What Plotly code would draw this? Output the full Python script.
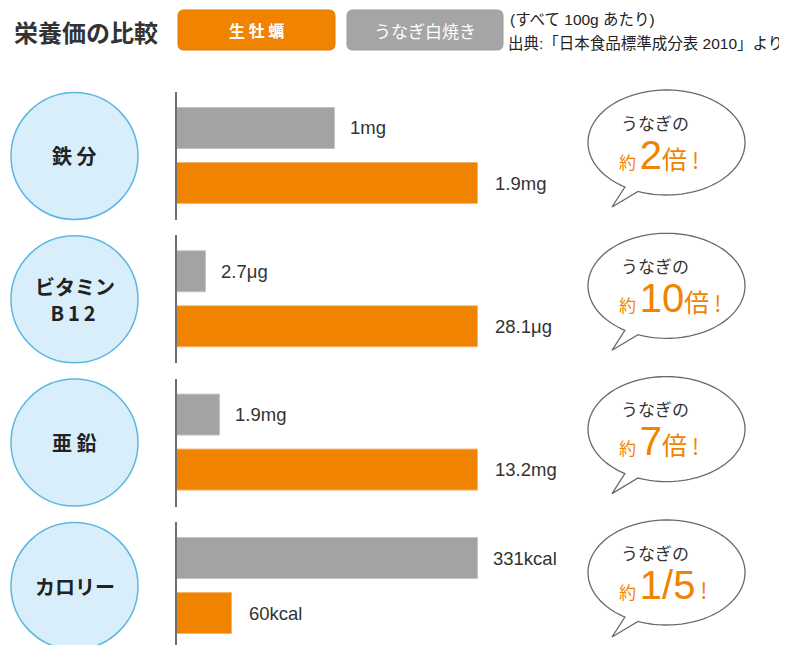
import numpy as np
import plotly.graph_objects as go

PAGE_W, PAGE_H = 787, 645
OFF = 8  # browser body margin
W, H = PAGE_W - OFF, PAGE_H - OFF

# ---- data ----
nutrients = ["鉄 分", "ビタミン<br><span style='letter-spacing:4px'>B12</span>", "亜 鉛", "カロリー"]
series_names = ["生 牡 蠣", "うなぎ白焼き"]
unagi = [1.0, 2.7, 1.9, 331]
oyster = [1.9, 28.1, 13.2, 60]
unagi_labels = ["1mg", "2.7μg", "1.9mg", "331kcal"]
oyster_labels = ["1.9mg", "28.1μg", "13.2mg", "60kcal"]
ratio_texts = ["2", "10", "7", "1/5"]
ratio_suffix = ["倍", "倍", "倍", ""]

ORANGE = "#f08300"
GRAY = "#a3a3a3"
DARK = "#333333"
JP = "Noto Sans CJK JP"
LAT = "Liberation Sans, Noto Sans CJK JP"


def px(x):
    return (x - OFF) / W


def py(y):
    return 1 - (y - OFF) / H


fig = go.Figure()

group_top = [92, 235.3, 378.6, 522]
group_h = 128
unit = 55.0
top_off = 36.0
x0px, x1px = 177, 478

shapes = []
annotations = []

for i in range(4):
    ax = "" if i == 0 else str(i + 1)
    top = group_top[i]
    bottom = min(top + group_h, PAGE_H)
    gmax = max(unagi[i], oyster[i])
    fig.add_trace(go.Bar(
        x=[unagi[i], oyster[i]], y=[0, 1], orientation="h",
        marker=dict(color=[GRAY, ORANGE], line=dict(color=["#c4c4c4", "#f6b56a"], width=1)),
        width=41 / unit, xaxis="x" + ax, yaxis="y" + ax,
        hoverinfo="skip", showlegend=False,
    ))
    fig.update_layout({
        f"xaxis{ax}": dict(domain=[px(x0px), px(x1px)], range=[0, gmax],
                           anchor="y" + ax, visible=False, fixedrange=True),
        f"yaxis{ax}": dict(domain=[max(py(bottom), 0), py(top)],
                           range=[(bottom - top - top_off) / unit, -top_off / unit],
                           anchor="x" + ax, showline=True, linecolor="#707070",
                           linewidth=1.5, showticklabels=False, ticks="",
                           showgrid=False, zeroline=False, fixedrange=True),
    })
    for j, (v, lab) in enumerate([(unagi[i], unagi_labels[i]), (oyster[i], oyster_labels[i])]):
        annotations.append(dict(
            x=v, y=j, xref="x" + ax, yref="y" + ax, text=lab, showarrow=False,
            xanchor="left", yanchor="middle", xshift=13 if j == 0 else 15,
            font=dict(family=LAT, size=18.5, color=DARK),
        ))

    # circle label
    cy = top + 64
    shapes.append(dict(type="circle", xref="paper", yref="paper",
                       x0=px(11), x1=px(138), y0=py(cy + 63.5), y1=py(cy - 63.5),
                       fillcolor="#d8eefa", line=dict(color="#5cb6e4", width=1.5), layer="above"))
    annotations.append(dict(x=px(74.5), y=py(cy), xref="paper", yref="paper",
                            text=nutrients[i], showarrow=False, xanchor="center", yanchor="middle",
                            font=dict(family=JP, size=20, color="#222222", weight="bold")))

    # speech bubble
    bcx, bcy, rx, ry = 666.5, top + 50.5, 78.5, 52.5
    t1, t2 = 2.129, 1.942
    ts = np.linspace(t1, t2 + 2 * np.pi, 120)
    pts = [(bcx + rx * np.cos(t), bcy + ry * np.sin(t)) for t in ts]
    tip = (612, top + 115)
    path = "M " + " L ".join(f"{px(a):.5f},{py(b):.5f}" for a, b in pts)
    path += f" L {px(tip[0]):.5f},{py(tip[1]):.5f} Z"
    shapes.append(dict(type="path", xref="paper", yref="paper", path=path,
                       fillcolor="white", line=dict(color="#6a6a6a", width=1.3), layer="above"))
    annotations.append(dict(x=px(619), y=py(bcy - 20.5), xref="paper", yref="paper",
                            text="うなぎの", showarrow=False, xanchor="left", yanchor="middle",
                            font=dict(family=JP, size=17, color=DARK)))
    line2 = (f"<span style='font-size:17px'>約 </span>"
             f"<span style='font-family:Liberation Sans'>{ratio_texts[i]}</span>"
             + (f"<span style='font-size:25px'>{ratio_suffix[i]}</span>" if ratio_suffix[i] else "")
             + "<span style='font-size:22px'> !</span>")
    annotations.append(dict(x=px(617), y=py(bcy + 12), xref="paper", yref="paper",
                            text=line2, showarrow=False, xanchor="left", yanchor="middle",
                            font=dict(family=JP, size=40, color=ORANGE)))


def rrect(x0, y0, x1, y1, r):
    X0, X1 = px(x0), px(x1)
    Y0, Y1 = py(y0), py(y1)
    rx_, ry_ = r / W, r / H
    return (f"M {X0+rx_},{Y0} L {X1-rx_},{Y0} Q {X1},{Y0} {X1},{Y0-ry_} "
            f"L {X1},{Y1+ry_} Q {X1},{Y1} {X1-rx_},{Y1} L {X0+rx_},{Y1} "
            f"Q {X0},{Y1} {X0},{Y1+ry_} L {X0},{Y0-ry_} Q {X0},{Y0} {X0+rx_},{Y0} Z")


# legend boxes
shapes.append(dict(type="path", xref="paper", yref="paper", path=rrect(178, 10, 335, 50, 6),
                   fillcolor=ORANGE, line=dict(color="#e07a00", width=1)))
shapes.append(dict(type="path", xref="paper", yref="paper", path=rrect(347, 10, 503, 50, 6),
                   fillcolor="#a5a5a5", line=dict(color="#999999", width=1)))
annotations.append(dict(x=px(256.5), y=py(30), xref="paper", yref="paper", text=series_names[0],
                        showarrow=False, xanchor="center", yanchor="middle",
                        font=dict(family=JP, size=16, color="white", weight="bold")))
annotations.append(dict(x=px(425), y=py(30), xref="paper", yref="paper", text=series_names[1],
                        showarrow=False, xanchor="center", yanchor="middle",
                        font=dict(family=JP, size=17, color="white")))

# title and note
annotations.append(dict(x=px(12), y=py(31), xref="paper", yref="paper", text="栄養価の比較",
                        showarrow=False, xanchor="left", yanchor="middle",
                        font=dict(family=JP, size=24, color=DARK, weight="bold")))
annotations.append(dict(x=px(508), y=py(19), xref="paper", yref="paper", text="(すべて 100g あたり)",
                        showarrow=False, xanchor="left", yanchor="middle",
                        font=dict(family=LAT, size=15.5, color="#222222")))
annotations.append(dict(x=px(506), y=py(43), xref="paper", yref="paper",
                        text="出典:「日本食品標準成分表 2010」より",
                        showarrow=False, xanchor="left", yanchor="middle",
                        font=dict(family=LAT, size=15.5, color="#222222")))

fig.update_layout(
    width=W, height=H, margin=dict(l=0, r=0, t=0, b=0),
    paper_bgcolor="white", plot_bgcolor="rgba(0,0,0,0)",
    shapes=shapes, annotations=annotations, bargap=0,
)

fig.write_html("out.html")
